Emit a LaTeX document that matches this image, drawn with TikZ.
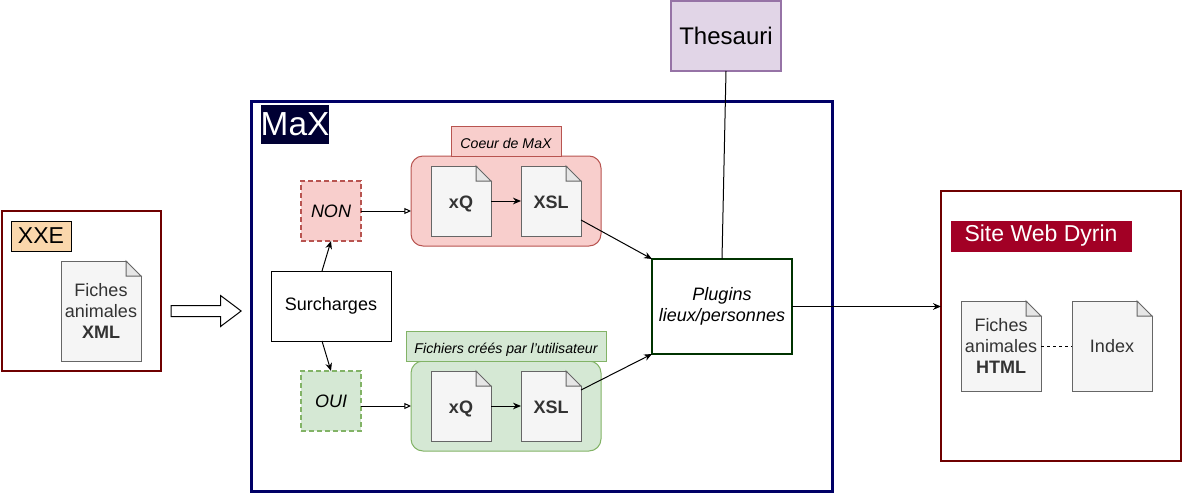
\documentclass[tikz,border=0pt]{standalone}
\usepackage{fontspec}
\setmainfont{Liberation Sans}
\usetikzlibrary{arrows.meta,positioning,shapes.arrows}
\definecolor{xxeline}{HTML}{6F0000}
\definecolor{xxefill}{HTML}{FAD7AC}
\definecolor{maxline}{HTML}{000066}
\definecolor{maxfill}{HTML}{000033}
\definecolor{redfill}{HTML}{F8CECC}
\definecolor{redline}{HTML}{B85450}
\definecolor{greenfill}{HTML}{D5E8D4}
\definecolor{greenline}{HTML}{82B366}
\definecolor{docfill}{HTML}{F5F5F5}
\definecolor{docline}{HTML}{666666}
\definecolor{docfold}{HTML}{E6E6E6}
\definecolor{doctext}{HTML}{333333}
\definecolor{plugline}{HTML}{003300}
\definecolor{thesfill}{HTML}{E1D5E7}
\definecolor{thesline}{HTML}{9673A6}
\definecolor{sitefill}{HTML}{A20025}

\begin{document}
\begin{tikzpicture}[
    x=0.75pt,y=-0.75pt,
    every node/.style={outer sep=0pt,inner sep=0pt,align=center},
    basefont/.style={font=\fontsize{13.5}{16}\selectfont},
    frame/.style={rectangle,draw,line width=1.5pt},
    doc/.style={rectangle,draw=docline,fill=docfill,line width=0.75pt,text=doctext,basefont},
    smalldoc/.style={doc,minimum width=45pt,minimum height=52.5pt,text height=11pt,text depth=0pt,font=\fontsize{13.5}{16}\selectfont\bfseries},
    bigdoc/.style={doc,minimum width=60pt,minimum height=67.5pt},
    choice/.style={rectangle,draw,dash pattern=on 3.75pt off 2.25pt,line width=1.5pt,minimum width=45pt,minimum height=45pt,font=\fontsize{13.5}{16}\selectfont\itshape},
    group/.style={rectangle,draw,rounded corners=9pt,line width=0.75pt,minimum width=142.5pt,minimum height=67.5pt},
    tag/.style={rectangle,draw,line width=0.75pt,minimum height=22.5pt,text height=11pt,text depth=0pt,font=\fontsize{10.6}{12.7}\selectfont\itshape},
    arrow/.style={-{Stealth[length=6pt,width=5pt]},line width=0.75pt},
    openarrow/.style={-{Triangle[open,fill=white,length=5pt,width=4.5pt]},line width=0.75pt}
]
\useasboundingbox (0,0) rectangle (1182,493);

\node[frame,draw=xxeline,minimum width=119.25pt,minimum height=120pt] (xxe) at (81.5,291) {};
\node[rectangle,draw,line width=0.75pt,fill=xxefill,minimum width=45pt,minimum height=22.5pt,font=\fontsize{17.25}{20}\selectfont] (xxelabel) at (41,236) {XXE};
\node[bigdoc,minimum height=75pt] (xml) at (101,311) {Fiches\\animales\\\textbf{XML}};

\node[single arrow,draw,line width=0.75pt,fill=white,inner ysep=3.75pt,inner xsep=0pt,minimum height=52.5pt,minimum width=22.5pt,single arrow head extend=7.5pt,single arrow tip angle=74] (transfer) at (202.5,311) {};

\node[frame,draw=maxline,line width=2.25pt,minimum width=435.75pt,minimum height=292.5pt] (max) at (541.5,296) {};
\node[rectangle,fill=maxfill,text=white,minimum width=51pt,minimum height=29.25pt,font=\fontsize{25}{30}\selectfont] (maxlabel) at (295,124.5) {MaX};

\node[rectangle,draw,line width=0.75pt,minimum width=90pt,minimum height=52.5pt,basefont] (surcharges) at (331,306) {Surcharges};
\node[choice,draw=redline,fill=redfill] (non) at (331,211) {NON};
\node[choice,draw=greenline,fill=greenfill] (oui) at (331,401) {OUI};

\node[group,draw=redline,fill=redfill] (coeur) at (506,201) {};
\node[tag,draw=redline,fill=redfill,minimum width=82.5pt,above=0pt of coeur] (coeurlabel) {Coeur de MaX};
\node[smalldoc] (xqcoeur) at (461,201) {xQ};
\node[smalldoc,right=22.5pt of xqcoeur] (xslcoeur) {XSL};

\node[group,draw=greenline,fill=greenfill] (user) at (506,406) {};
\node[tag,draw=greenline,fill=greenfill,minimum width=150pt,above=0pt of user] (userlabel) {Fichiers créés par l'utilisateur};
\node[smalldoc] (xquser) at (461,406) {xQ};
\node[smalldoc,right=22.5pt of xquser] (xsluser) {XSL};

\node[frame,draw=plugline,minimum width=105pt,minimum height=71.25pt,font=\fontsize{13.5}{16}\selectfont\itshape] (plugins) at (722,306.5) {Plugins\\lieux/personnes};
\node[frame,draw=thesline,fill=thesfill,minimum width=82.5pt,minimum height=52.5pt,font=\fontsize{18}{21.6}\selectfont] (thesauri) at (726,36) {Thesauri};

\node[frame,draw=xxeline,minimum width=180pt,minimum height=202.5pt] (site) at (1061,326) {};
\node[rectangle,fill=sitefill,draw=sitefill,text=white,minimum width=135pt,minimum height=22.5pt,font=\fontsize{17.25}{20}\selectfont] (sitelabel) at (1041,236) {Site Web Dyrin};
\node[bigdoc] (html) at (1001,346) {Fiches\\animales\\\textbf{HTML}};
\node[bigdoc] (index) at (1112,346) {Index};

\foreach \n/\bg in {xml/white,xqcoeur/redfill,xslcoeur/redfill,xquser/greenfill,xsluser/greenfill,html/white,index/white}{
    \fill[\bg] ([xshift=-11.25pt,yshift=0.6pt]\n.north east) -- ([xshift=0.6pt,yshift=0.6pt]\n.north east) -- ([xshift=0.6pt,yshift=-11.25pt]\n.north east) -- cycle;
    \filldraw[draw=docline,fill=docfold,line width=0.75pt] ([xshift=-11.25pt]\n.north east) -- ([xshift=-11.25pt,yshift=-11.25pt]\n.north east) -- ([yshift=-11.25pt]\n.north east) -- cycle;
}

\draw[arrow] ([xshift=-6.75pt]surcharges.north) -- (non.south);
\draw[arrow] ([xshift=-6.75pt]surcharges.south) -- (oui.north);
\draw[openarrow] (non.east) -- (non.east -| coeur.west);
\draw[openarrow] ([yshift=-3.75pt]oui.east) -- (user.west);
\draw[arrow] (xqcoeur) -- (xslcoeur);
\draw[arrow] (xquser) -- (xsluser);
\draw[arrow] ([yshift=-14.25pt]xslcoeur.east) -- (plugins.north west);
\draw[arrow] ([yshift=12pt]xsluser.east) -- (plugins.south west);
\draw[line width=0.75pt] (thesauri.south) -- (plugins.north);
\draw[arrow] (plugins.east) -- (plugins.east -| site.west);
\draw[dash pattern=on 2.25pt off 2.25pt,line width=0.75pt] (html) -- (index);
\end{tikzpicture}
\end{document}
